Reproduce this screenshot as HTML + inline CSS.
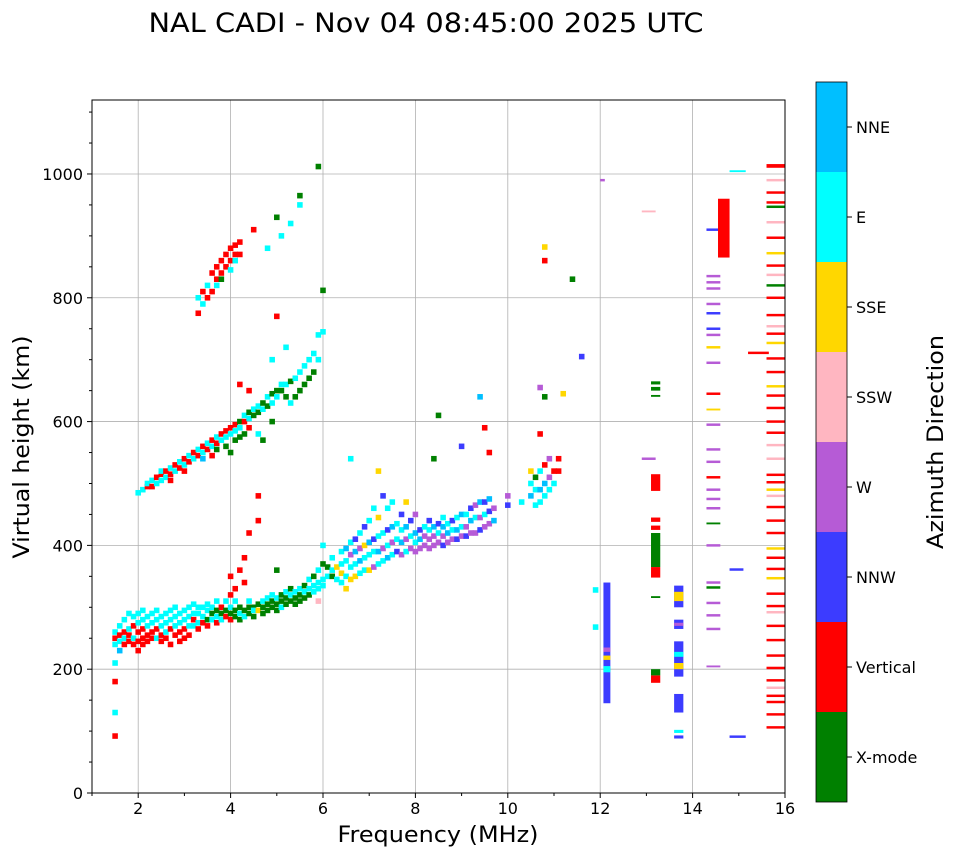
<!DOCTYPE html>
<html><head><meta charset="utf-8"><style>
html,body{margin:0;padding:0;background:#fff;}
svg{display:block;font-family:"DejaVu Sans","Liberation Sans",sans-serif;}
</style></head><body>
<svg id="chart" width="958" height="857" viewBox="0 0 958 857">
<text x="426" y="32" font-size="27" text-anchor="middle" textLength="555" lengthAdjust="spacingAndGlyphs">NAL CADI - Nov 04 08:45:00 2025 UTC</text>
<g id="grid"></g>
<g id="marks"></g>
<rect x="92" y="100" width="693" height="693" fill="none" stroke="#000" stroke-width="1"/>
<g id="axes"></g>
<text x="438" y="842" font-size="22" text-anchor="middle" textLength="201" lengthAdjust="spacingAndGlyphs">Frequency (MHz)</text>
<text transform="translate(29,447) rotate(-90)" font-size="22" text-anchor="middle" textLength="223" lengthAdjust="spacingAndGlyphs">Virtual height (km)</text>
<g id="cbar"></g>
<text transform="translate(943,442) rotate(-90)" font-size="22" text-anchor="middle" textLength="214" lengthAdjust="spacingAndGlyphs">Azimuth Direction</text>
</svg>
<script>
const directions=["X-mode","Vertical","NNW","W","SSW","SSE","E","NNE"];
const dirColors=["#008000","#ff0000","#3c3cff","#b65bd6","#ffb6c1","#ffd700","#00ffff","#00bfff"];
const xTicks=[2,4,6,8,10,12,14,16];
const yTicks=[0,200,400,600,800,1000];
// echo cells: [frequency MHz, virtual height km, direction index]
const echoes=[
[1.5,250,1],[1.5,260,6],[1.5,240,6],[1.5,210,6],[1.5,180,1],[1.5,130,6],[1.5,92,1],
[1.6,255,1],[1.6,270,6],[1.6,245,6],[1.6,230,7],[1.7,260,1],[1.7,250,6],[1.7,280,6],[1.7,240,1],
[1.8,255,1],[1.8,265,6],[1.8,245,1],[1.8,290,6],[1.9,270,1],[1.9,250,6],[1.9,240,1],[1.9,285,6],
[2.0,260,1],[2.0,275,6],[2.0,245,1],[2.0,290,6],[2.0,230,1],[2.1,265,1],[2.1,250,1],[2.1,280,6],[2.1,295,6],[2.1,240,1],
[2.2,270,6],[2.2,255,1],[2.2,285,6],[2.2,245,1],[2.3,260,1],[2.3,275,6],[2.3,290,6],[2.3,250,1],
[2.4,265,1],[2.4,280,6],[2.4,295,6],[2.4,250,6],[2.5,270,6],[2.5,255,1],[2.5,285,6],[2.5,245,1],
[2.6,275,6],[2.6,260,6],[2.6,290,6],[2.6,250,1],[2.7,265,1],[2.7,280,6],[2.7,295,6],[2.7,240,1],
[2.8,270,6],[2.8,285,6],[2.8,255,1],[2.8,300,6],[2.9,275,6],[2.9,260,1],[2.9,290,6],[2.9,245,1],
[3.0,280,6],[3.0,265,1],[3.0,295,6],[3.0,250,1],[3.1,285,6],[3.1,270,6],[3.1,300,6],[3.1,255,1],
[3.2,280,1],[3.2,290,6],[3.2,270,6],[3.2,305,6],[3.3,290,6],[3.3,275,6],[3.3,300,6],[3.3,265,1],
[3.4,285,6],[3.4,300,6],[3.4,275,1],[3.5,295,6],[3.5,280,0],[3.5,305,6],[3.5,270,1],
[3.6,290,0],[3.6,300,6],[3.6,280,6],[3.7,295,0],[3.7,285,6],[3.7,310,6],[3.7,275,1],
[3.8,290,0],[3.8,300,1],[3.8,280,6],[3.9,295,0],[3.9,285,1],[3.9,310,6],
[4.0,290,0],[4.0,300,6],[4.0,280,1],[4.0,320,1],[4.0,350,1],[4.1,295,0],[4.1,285,0],[4.1,310,6],[4.1,330,1],
[4.2,300,0],[4.2,290,6],[4.2,280,0],[4.2,360,1],[4.3,295,0],[4.3,285,6],[4.3,340,1],[4.3,380,1],
[4.4,300,0],[4.4,290,0],[4.4,310,6],[4.4,420,1],[4.5,300,0],[4.5,295,6],[4.5,285,0],
[4.6,305,0],[4.6,295,5],[4.6,440,1],[4.6,480,1],[4.7,300,0],[4.7,310,6],[4.7,290,0],
[4.8,305,0],[4.8,295,0],[4.8,315,6],[4.9,300,0],[4.9,310,0],[4.9,320,6],
[5.0,305,0],[5.0,315,6],[5.0,295,0],[5.0,360,0],[5.1,310,0],[5.1,300,6],[5.1,320,0],
[5.2,315,0],[5.2,305,0],[5.2,325,6],[5.3,310,0],[5.3,320,6],[5.3,330,0],[5.4,315,0],[5.4,325,6],[5.4,305,0],
[5.5,320,0],[5.5,330,6],[5.5,310,0],[5.6,325,6],[5.6,335,0],[5.6,315,0],[5.7,330,6],[5.7,320,0],[5.7,345,6],
[5.8,335,6],[5.8,325,6],[5.8,350,0],[5.9,340,6],[5.9,330,6],[5.9,360,6],[5.9,310,4],
[6.0,345,6],[6.0,335,6],[6.0,370,0],[6.0,400,6],[6.1,350,6],[6.1,365,0],[6.2,360,6],[6.2,350,0],[6.2,380,6],
[6.3,345,6],[6.3,365,5],[6.4,340,6],[6.4,355,5],[6.4,370,6],[6.4,390,6],[6.5,330,5],[6.5,350,6],[6.5,375,6],[6.5,395,7],
[6.6,345,5],[6.6,365,6],[6.6,385,3],[6.6,405,6],[6.7,350,5],[6.7,370,6],[6.7,390,7],[6.7,410,2],
[6.8,355,6],[6.8,375,7],[6.8,395,3],[6.8,420,6],[6.9,360,6],[6.9,380,6],[6.9,400,5],[6.9,430,2],
[7.0,360,5],[7.0,385,6],[7.0,405,7],[7.0,440,6],[7.1,365,3],[7.1,390,6],[7.1,410,2],[7.1,460,6],
[7.2,370,6],[7.2,390,7],[7.2,415,6],[7.2,445,5],[7.3,375,6],[7.3,395,3],[7.3,420,6],[7.3,480,2],
[7.4,380,7],[7.4,400,6],[7.4,425,2],[7.4,460,6],[7.5,385,6],[7.5,405,3],[7.5,430,7],[7.5,470,6],
[7.6,390,2],[7.6,410,6],[7.6,435,6],[7.7,385,3],[7.7,405,7],[7.7,425,6],[7.7,450,2],
[7.8,390,6],[7.8,410,3],[7.8,430,7],[7.8,470,5],[7.9,395,3],[7.9,415,6],[7.9,440,2],
[8.0,390,3],[8.0,405,6],[8.0,420,7],[8.0,450,3],[8.1,395,3],[8.1,410,7],[8.1,425,2],
[8.2,400,3],[8.2,415,3],[8.2,430,6],[8.3,395,3],[8.3,410,3],[8.3,425,6],[8.3,440,2],
[8.4,400,3],[8.4,415,3],[8.4,430,7],[8.5,405,3],[8.5,420,6],[8.5,435,2],
[8.6,400,2],[8.6,415,3],[8.6,430,7],[8.6,445,6],[8.7,405,3],[8.7,420,7],[8.7,435,6],
[8.8,410,3],[8.8,425,6],[8.8,440,2],[8.9,410,2],[8.9,425,7],[8.9,445,6],
[9.0,415,3],[9.0,430,6],[9.0,450,7],[9.1,415,2],[9.1,430,3],[9.1,450,6],
[9.2,420,3],[9.2,440,7],[9.2,460,2],[9.3,420,3],[9.3,445,6],[9.3,465,3],
[9.4,425,2],[9.4,445,3],[9.4,470,7],[9.5,430,3],[9.5,450,6],[9.5,470,2],
[9.6,435,3],[9.6,455,2],[9.6,475,7],[9.7,440,7],[9.7,460,3],[10.0,465,2],[10.0,480,3],[10.3,470,6],
[10.5,480,7],[10.5,500,6],[10.5,520,5],[10.6,465,6],[10.6,490,6],[10.6,510,0],
[10.7,470,6],[10.7,490,7],[10.7,520,6],[10.7,580,1],[10.8,480,6],[10.8,500,7],[10.8,530,1],
[10.9,490,6],[10.9,510,3],[10.9,540,3],[11.0,500,6],[11.0,520,1],[11.1,520,1],[11.1,540,1],
[6.6,540,6],[7.2,520,5],[8.4,540,0],[8.5,610,0],[9.0,560,2],[9.4,640,7],[9.5,590,1],[9.6,550,1],
[10.8,640,0],[10.7,655,3],[11.2,645,5],[10.8,882,5],[10.8,860,1],[11.4,830,0],[11.6,705,2],[11.9,328,6],[11.9,268,6],
[2.0,485,6],[2.1,490,6],[2.2,495,1],[2.2,500,6],[2.3,505,6],[2.3,495,1],[2.4,510,1],[2.4,500,6],
[2.5,515,1],[2.5,505,6],[2.5,520,6],[2.6,520,1],[2.6,510,6],[2.7,525,6],[2.7,515,1],[2.7,505,1],
[2.8,530,1],[2.8,520,6],[2.9,525,1],[2.9,535,6],[3.0,530,6],[3.0,540,1],[3.0,520,1],
[3.1,535,1],[3.1,545,6],[3.2,540,6],[3.2,550,1],[3.3,545,1],[3.3,555,6],[3.4,550,6],[3.4,560,1],[3.4,540,7],
[3.5,555,1],[3.5,565,6],[3.6,560,6],[3.6,570,1],[3.6,545,1],[3.7,565,1],[3.7,575,6],[3.7,555,0],
[3.8,570,6],[3.8,580,1],[3.9,575,6],[3.9,585,1],[3.9,560,0],[4.0,580,6],[4.0,590,1],[4.0,550,0],
[4.1,585,6],[4.1,595,1],[4.1,570,0],[4.2,590,6],[4.2,600,0],[4.2,575,0],[4.3,600,1],[4.3,610,6],[4.3,580,0],
[4.4,605,6],[4.4,615,0],[4.4,590,1],[4.5,610,0],[4.5,620,6],[4.6,615,0],[4.6,625,6],[4.6,580,6],
[4.7,620,6],[4.7,630,0],[4.7,570,0],[4.8,625,0],[4.8,640,6],[4.9,630,6],[4.9,645,0],[4.9,600,0],
[5.0,640,6],[5.0,650,0],[5.1,650,0],[5.1,660,6],[5.2,660,6],[5.2,640,0],[5.3,665,0],[5.3,630,6],
[5.4,670,6],[5.4,640,0],[5.5,680,6],[5.5,650,0],[5.6,690,6],[5.6,660,0],[5.7,700,6],[5.7,670,0],
[5.8,680,0],[5.8,710,6],[5.9,700,6],[5.9,740,6],[6.0,812,0],[6.0,745,6],
[4.2,660,1],[4.4,650,1],[4.9,700,6],[5.2,720,6],[5.0,770,1],
[3.3,775,1],[3.3,800,6],[3.4,790,6],[3.4,810,1],[3.5,800,1],[3.5,820,6],[3.6,810,1],[3.6,840,1],
[3.7,830,1],[3.7,850,1],[3.7,820,6],[3.8,840,1],[3.8,860,1],[3.8,830,0],[3.9,850,1],[3.9,870,1],
[4.0,860,1],[4.0,880,1],[4.0,845,6],[4.1,870,1],[4.1,885,1],[4.1,860,6],[4.2,870,1],[4.2,890,1],
[4.5,910,1],[4.8,880,6],[5.1,900,6],[5.3,920,6],[5.5,950,6],[5.5,965,0],[5.9,1012,0],[5.0,930,0]
];
// vertical runs: [freq start, freq end, height start, height end, direction index]
const runs=[
[12.07,12.22,145,340,2],[12.07,12.22,195,205,6],[12.07,12.22,215,222,5],[12.07,12.22,228,235,3],[12.0,12.1,988,992,3],
[13.1,13.3,178,190,1],[13.1,13.3,190,200,0],[13.1,13.3,348,365,1],[13.1,13.3,365,420,0],[13.1,13.3,425,432,1],
[13.1,13.3,438,445,1],[13.1,13.3,488,515,1],[13.1,13.3,640,643,0],[13.1,13.3,650,656,0],[13.1,13.3,660,665,0],
[13.1,13.3,315,318,0],[12.9,13.2,538,542,3],[12.9,13.2,938,941,4],
[13.6,13.8,88,93,2],[13.6,13.8,97,102,6],[13.6,13.8,130,160,2],[13.6,13.8,188,245,2],[13.6,13.8,200,210,5],
[13.6,13.8,220,228,6],[13.6,13.8,265,280,2],[13.6,13.8,270,275,3],[13.6,13.8,300,335,2],[13.6,13.8,310,325,5],
[14.3,14.6,203,206,3],[14.3,14.6,263,267,3],[14.3,14.6,285,289,3],[14.3,14.6,305,309,3],[14.3,14.6,330,334,0],
[14.3,14.6,338,342,3],[14.3,14.6,398,402,3],[14.3,14.6,434,437,0],[14.3,14.6,458,462,3],[14.3,14.6,473,477,3],
[14.3,14.6,488,492,3],[14.3,14.6,508,512,1],[14.3,14.6,533,537,3],[14.3,14.6,553,557,3],[14.3,14.6,593,597,3],
[14.3,14.6,618,621,5],[14.3,14.6,643,647,1],[14.3,14.6,693,697,3],[14.3,14.6,718,722,5],[14.3,14.6,738,742,3],
[14.3,14.6,748,752,2],[14.3,14.6,773,777,2],[14.3,14.6,788,792,3],[14.3,14.6,813,817,3],[14.3,14.6,823,827,3],
[14.3,14.6,833,837,3],[14.3,14.6,908,912,2],
[14.55,14.8,865,960,1],[14.8,15.15,1003,1006,6],[14.8,15.1,359,363,2],[14.8,15.15,89,93,2],[15.2,15.65,709,713,1],
[15.6,16.0,104,108,1],[15.6,16.0,125,129,1],[15.6,16.0,145,149,1],[15.6,16.0,155,159,1],[15.6,16.0,168,172,4],
[15.6,16.0,180,184,1],[15.6,16.0,200,204,1],[15.6,16.0,220,224,1],[15.6,16.0,245,249,1],[15.6,16.0,268,272,1],
[15.6,16.0,290,294,4],[15.6,16.0,300,304,1],[15.6,16.0,320,324,1],[15.6,16.0,345,349,5],[15.6,16.0,360,364,1],
[15.6,16.0,378,382,1],[15.6,16.0,393,397,5],[15.6,16.0,418,422,1],[15.6,16.0,438,442,1],[15.6,16.0,460,464,1],
[15.6,16.0,478,482,4],[15.6,16.0,488,492,5],[15.6,16.0,500,504,1],[15.6,16.0,512,516,1],[15.6,16.0,538,542,4],
[15.6,16.0,560,564,4],[15.6,16.0,580,584,1],[15.6,16.0,598,602,1],[15.6,16.0,620,624,1],[15.6,16.0,640,644,1],
[15.6,16.0,655,659,5],[15.6,16.0,678,682,1],[15.6,16.0,700,704,1],[15.6,16.0,725,729,5],[15.6,16.0,740,744,1],
[15.6,16.0,752,756,4],[15.6,16.0,770,774,1],[15.6,16.0,798,802,1],[15.6,16.0,818,822,0],[15.6,16.0,835,839,4],
[15.6,16.0,850,854,1],[15.6,16.0,870,874,5],[15.6,16.0,895,899,1],[15.6,16.0,920,924,4],[15.6,16.0,945,949,0],
[15.6,16.0,952,956,1],[15.6,16.0,968,972,1],[15.6,16.0,988,992,4],[15.6,16.0,1010,1016,1]
];
const NS="http://www.w3.org/2000/svg";
const X0=92,X1=785,Y0=793,Y1=100,FMIN=1,FMAX=16,HMIN=0,HMAX=1119.5;
function xs(f){return X0+(f-FMIN)/(FMAX-FMIN)*(X1-X0);}
function ys(h){return Y0-(h-HMIN)/(HMAX-HMIN)*(Y0-Y1);}
function mk(tag,attrs,parent){const e=document.createElementNS(NS,tag);for(const k in attrs)e.setAttribute(k,attrs[k]);parent.appendChild(e);return e;}
const grid=document.getElementById('grid'),axes=document.getElementById('axes'),marks=document.getElementById('marks'),cbar=document.getElementById('cbar');
xTicks.forEach(t=>{const x=xs(t);
 if(t<FMAX){const g=mk('line',{x1:x,x2:x,y1:Y1,y2:Y0,stroke:'#b0b0b0','stroke-width':0.8},grid);
 }
 const tk=mk('line',{x1:x,x2:x,y1:Y0,y2:Y0+5,stroke:'#000'},axes);
 
 const lb=mk('text',{x:x,y:Y0+21,'font-size':16,'text-anchor':'middle'},axes);lb.textContent=t;
 });
for(let f=1;f<=15;f+=2){const x=xs(f);const m=mk('line',{x1:x,x2:x,y1:Y0,y2:Y0+3,stroke:'#000'},axes);
 }
yTicks.forEach(t=>{const y=ys(t);
 if(t>0){const g=mk('line',{x1:X0,x2:X1,y1:y,y2:y,stroke:'#b0b0b0','stroke-width':0.8},grid);
 }
 const tk=mk('line',{x1:X0-5,x2:X0,y1:y,y2:y,stroke:'#000'},axes);
 
 const lb=mk('text',{x:X0-9,y:y+6,'font-size':16,'text-anchor':'end'},axes);lb.textContent=t;
 });
for(let h=50;h<HMAX;h+=50){if(h%200===0)continue;const y=ys(h);const m=mk('line',{x1:X0-3,x2:X0,y1:y,y2:y,stroke:'#000'},axes);
 }
const CW=0.12,CH=9;
echoes.forEach(e=>{const x=xs(e[0]-CW/2),w=xs(e[0]+CW/2)-x,y=ys(e[1]+CH/2),h=ys(e[1]-CH/2)-y;
 const r=mk('rect',{x:x,y:y,width:w,height:h,fill:dirColors[e[2]]},marks);
 });
runs.forEach(e=>{const x=xs(e[0]),w=xs(e[1])-x,y=ys(e[3]),h=ys(e[2])-y;
 const r=mk('rect',{x:x,y:y,width:w,height:h,fill:dirColors[e[4]]},marks);
 });
const CB0=802,CBH=90;
directions.forEach((d,i)=>{const y=CB0-(i+1)*CBH;
 const r=mk('rect',{x:816,y:y,width:31,height:CBH,fill:dirColors[i]},cbar);
 
 const t=mk('line',{x1:847,x2:852,y1:y+CBH/2,y2:y+CBH/2,stroke:'#000'},cbar);
 
 const l=mk('text',{x:856,y:y+CBH/2+6,'font-size':16},cbar);l.textContent=d;
 });
const fr=mk('rect',{x:816,y:82,width:31,height:720,fill:'none',stroke:'#000','stroke-width':0.8},cbar);

</script>
</body></html>
